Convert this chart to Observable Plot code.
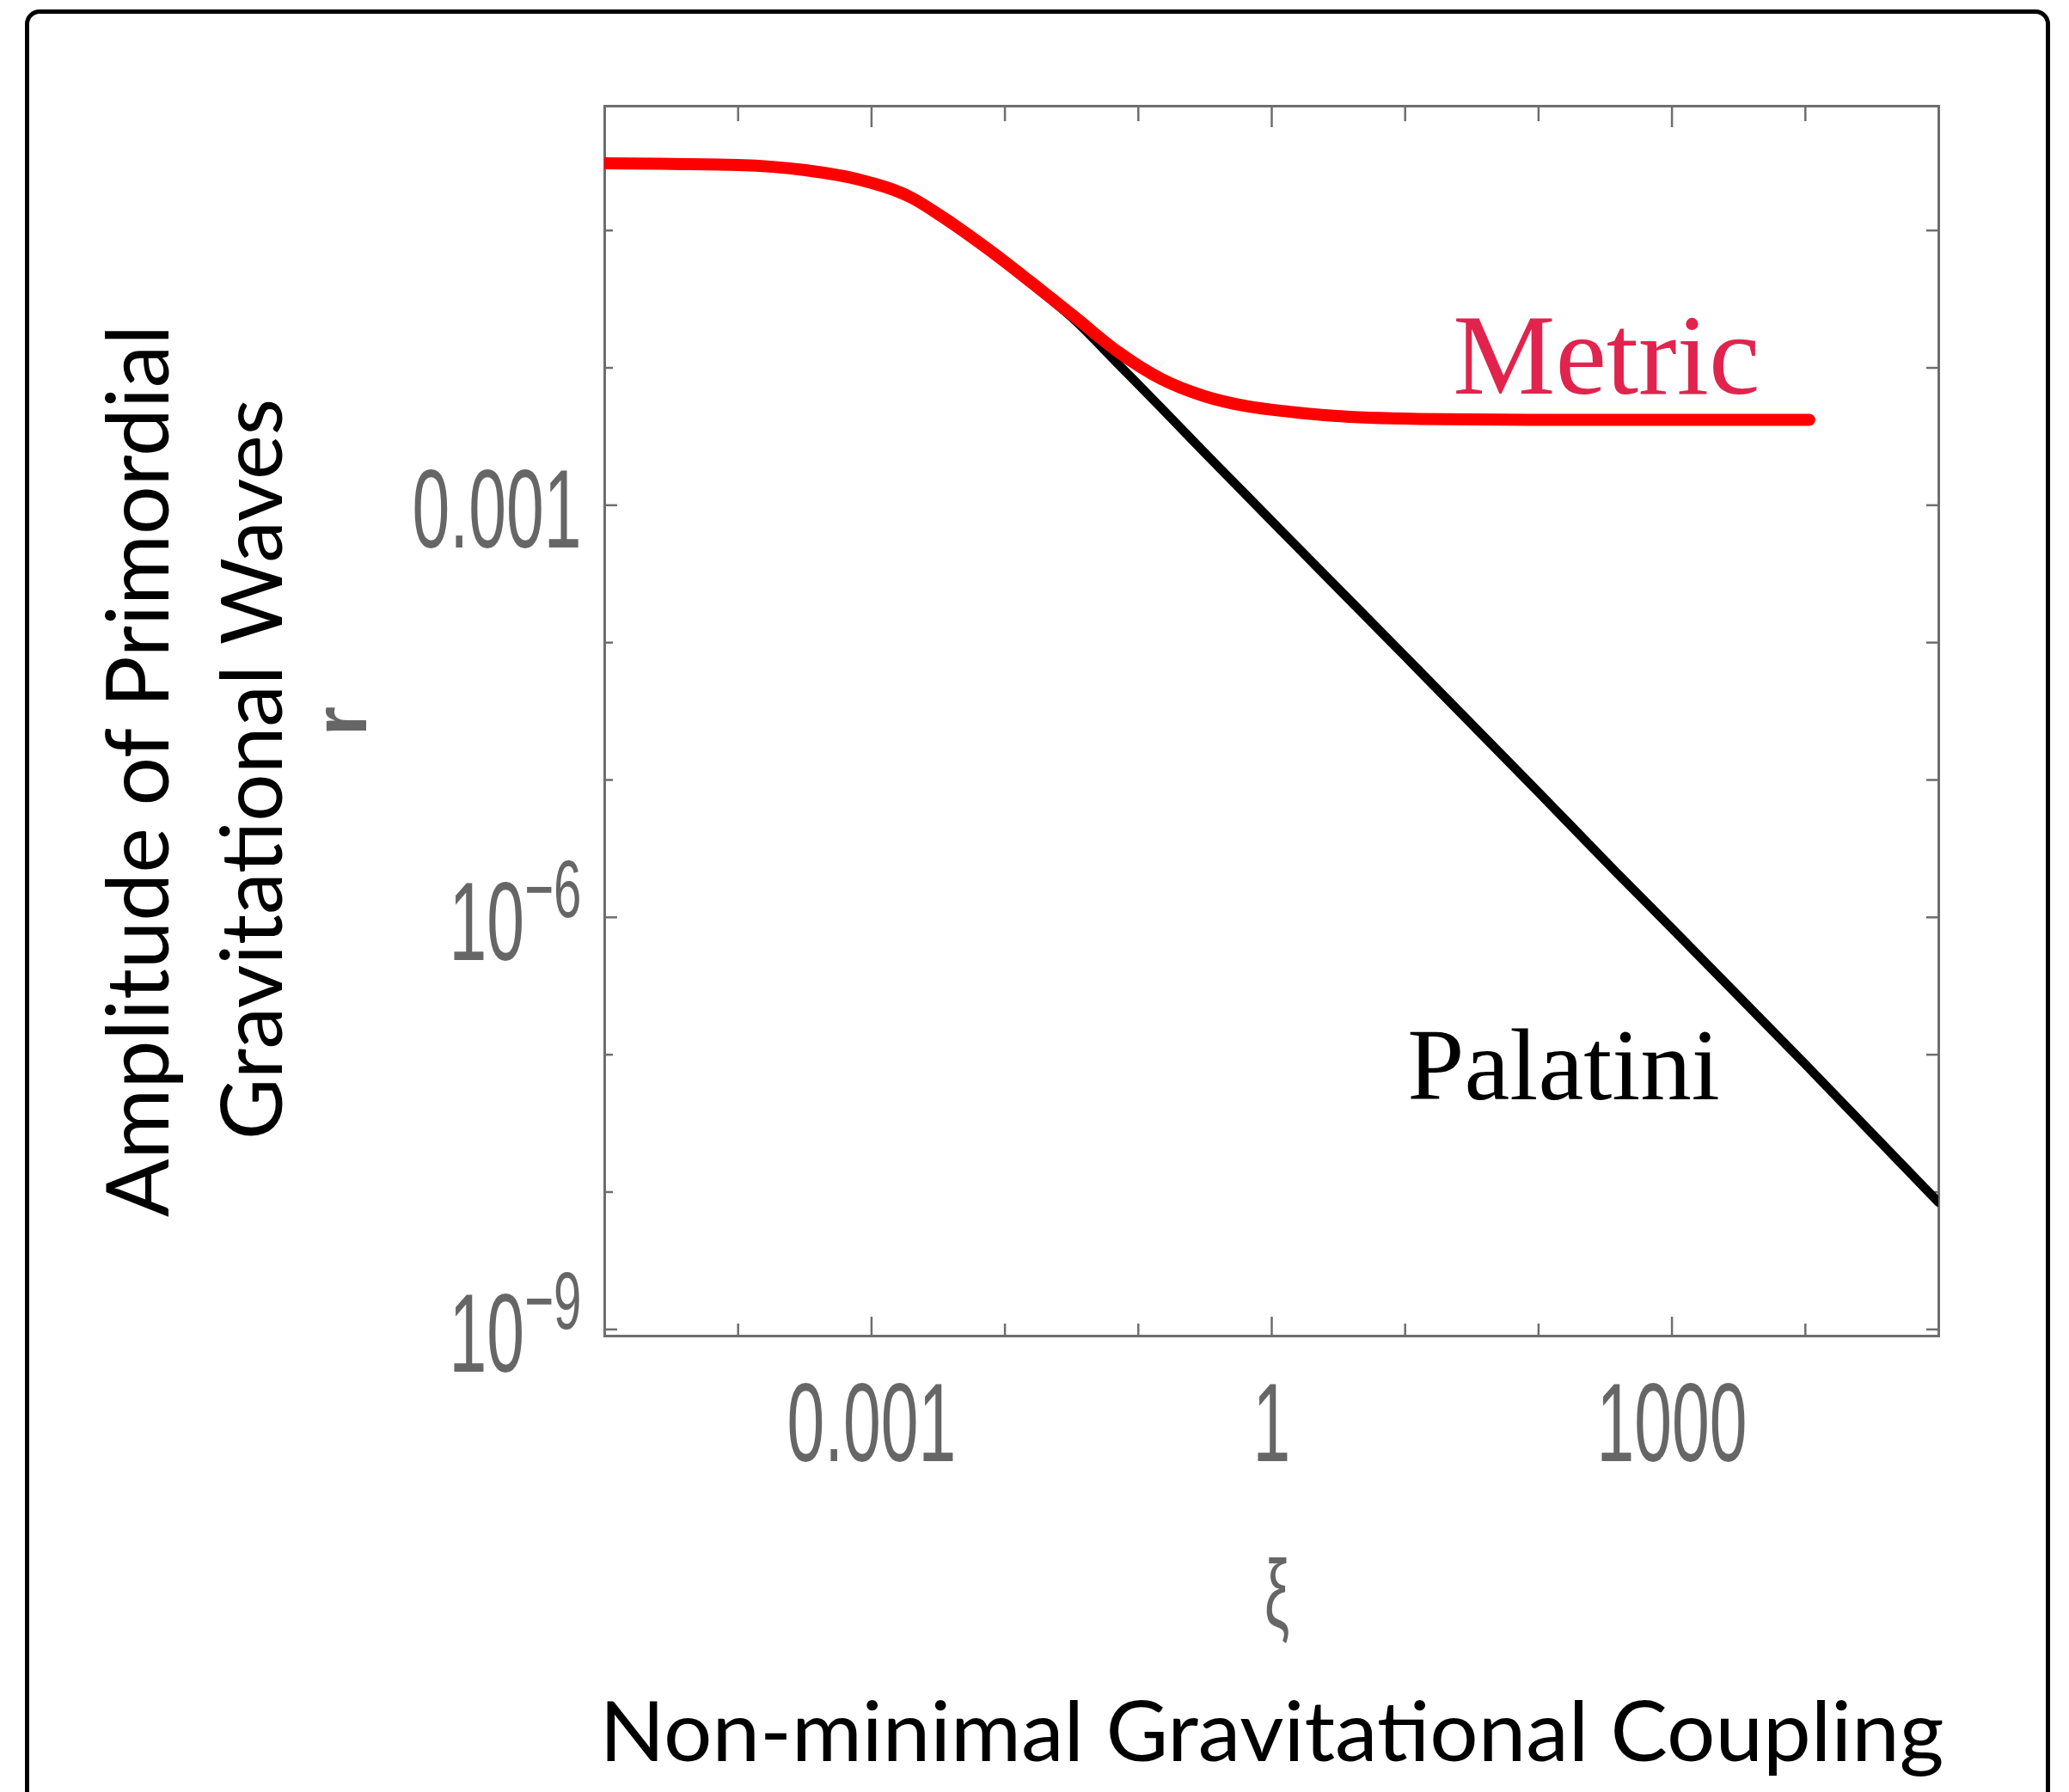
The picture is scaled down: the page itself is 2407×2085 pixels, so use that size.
<!DOCTYPE html>
<html>
<head>
<meta charset="utf-8">
<script src="https://cdn.jsdelivr.net/npm/d3@7"></script>
<script src="https://cdn.jsdelivr.net/npm/@observablehq/plot@0.6"></script>
<style>
  html, body { margin: 0; padding: 0; background: #fff; overflow: hidden; }
  #wrap { position: relative; width: 2407px; height: 2085px; }
  #chart { position: absolute; left: 0; top: 0; }
  #border { position: absolute; left: 29px; top: 11px; width: 2346px; height: 2200px;
            border: 5px solid #000; border-radius: 17px; pointer-events: none; }
</style>
</head>
<body>
<div id="wrap"><div id="chart"></div><div id="border"></div></div>
<script>
// ---- data ----
const metricXi = [1e-5, 3.16e-5, 1e-4, 3.2e-4, 8.2e-4, 2.0e-3, 3.6e-3, 7.6e-3, 0.0159, 0.0335, 0.0703, 0.148, 0.310, 0.653, 1.37, 2.88, 12.7, 92, 1480, 1.07e4];
const metricR  = [0.309, 0.305, 0.300, 0.275, 0.234, 0.173, 0.121, 0.0723, 0.0416, 0.0234, 0.0131, 0.00832, 0.00624, 0.00525, 0.00479, 0.00448, 0.00425, 0.00418, 0.00418, 0.00418];

const palatiniXi = [1e-5, 3.16e-5, 1e-4, 3.2e-4, 8.2e-4, 2.0e-3, 3.6e-3, 7.6e-3, 0.0159, 0.0335, 0.0703, 0.148, 0.310, 0.653, 1.37, 10, 100, 375, 1000, 1e4, 1e5];
const palatiniR  = [0.309, 0.305, 0.300, 0.275, 0.234, 0.173, 0.121, 0.0723, 0.0406, 0.0222, 0.0107, 0.00513, 0.00244, 0.00117, 5.62e-4, 7.94e-5, 8.13e-6, 2.17e-6, 8.3e-7, 8.5e-8, 8.4e-9];

const xDomain = [1e-5, 1e5];
const yDomain = [8.95e-10, 0.804];

const xMajorTicks = [1e-3, 1, 1e3];
const xMinorTicks = [1e-4, 1e-2, 1e-1, 10, 100, 1e4];
const xTickLabels = ["0.001", "1", "1000"];

const yMajorTicks = [1e-3, 1e-6, 1e-9];
const yMinorTicks = [1e-1, 1e-2, 1e-4, 1e-5, 1e-7, 1e-8];
const yTickBase = ["0.001", "10", "10"];
const yTickExp  = ["", "−6", "−9"];

const curveLabels = ["Metric", "Palatini"];
const labelXi = [22.8, 10.4];
const labelR  = [0.00649, 4.74e-8];

const yTitleLines = ["Amplitude of Primordial", "Gravitational Waves"];
const yVarLabel = "r";
const xVarLabel = "ξ";
const xTitle = "Non-minimal Gravitational Coupling";

// ---- build ----
const metric = metricXi.map((x, i) => ({xi: x, r: metricR[i]}));
const palatini = palatiniXi.map((x, i) => ({xi: x, r: palatiniR[i]}));
const labels = curveLabels.map((t, i) => ({t, xi: labelXi[i], r: labelR[i]}));

const frameColor = "#6e6e6e";
const tickColor = "#6e6e6e";
const common = {label: null, color: tickColor, strokeWidth: 2.5};

const plot = Plot.plot({
  width: 2407,
  height: 2085,
  marginLeft: 703,
  marginRight: 152,
  marginTop: 123,
  marginBottom: 531,
  x: {type: "log", domain: xDomain},
  y: {type: "log", domain: yDomain},
  style: {fontFamily: "'Liberation Sans', Arial, sans-serif", background: "transparent", overflow: "visible"},
  marks: [
    Plot.axisX({...common, anchor: "bottom", ticks: xMinorTicks, tickSize: -14, tickFormat: () => ""}),
    Plot.axisX({...common, anchor: "bottom", ticks: xMajorTicks, tickSize: -22, tickPadding: 76,
      tickFormat: d => xTickLabels[xMajorTicks.indexOf(d)], fontSize: 129, fill: "#666"}),
    Plot.axisX({...common, anchor: "top", ticks: xMinorTicks, tickSize: -17, tickFormat: () => ""}),
    Plot.axisX({...common, anchor: "top", ticks: xMajorTicks, tickSize: -24, tickFormat: () => ""}),
    Plot.axisY({...common, anchor: "left", ticks: yMinorTicks, tickSize: -10, tickFormat: () => ""}),
    Plot.axisY({...common, anchor: "left", ticks: yMajorTicks, tickSize: -15, tickPadding: 42,
      tickFormat: d => { const i = yMajorTicks.indexOf(d); return yTickBase[i] + "|" + yTickExp[i]; },
      fontSize: 129, fill: "#666"}),
    Plot.axisY({...common, anchor: "right", ticks: yMinorTicks.concat(yMajorTicks), tickSize: -15, tickFormat: () => ""}),
    Plot.frame({stroke: frameColor, strokeWidth: 3}),
    Plot.line(palatini, {x: "xi", y: "r", stroke: "#000", strokeWidth: 10.5, curve: "monotone-x", clip: true}),
    Plot.line(metric, {x: "xi", y: "r", stroke: "#ff0000", strokeWidth: 14, curve: "monotone-x", clip: true}),
    Plot.text(labels.slice(0, 1), {x: "xi", y: "r", text: "t", textAnchor: "start", lineAnchor: "bottom",
      fontFamily: "'Liberation Serif', 'Times New Roman', serif", fontSize: 134, fill: "#e1244d"}),
    Plot.text(labels.slice(1, 2), {x: "xi", y: "r", text: "t", textAnchor: "start", lineAnchor: "bottom",
      fontFamily: "'Liberation Serif', 'Times New Roman', serif", fontSize: 119, fill: "#000"}),
    Plot.text([yTitleLines[0]], {frameAnchor: "left", text: d => d, rotate: -90, dx: -508, dy: 58,
      lineAnchor: "bottom", textAnchor: "middle", fontFamily: "Lato", fontSize: 101, fill: "#000"}),
    Plot.text([yTitleLines[1]], {frameAnchor: "left", text: d => d, rotate: -90, dx: -376, dy: 56,
      lineAnchor: "bottom", textAnchor: "middle", fontFamily: "Lato", fontSize: 98, fill: "#000"}),
    Plot.text([yVarLabel], {frameAnchor: "left", text: d => d, rotate: -90, dx: -278, dy: 0,
      lineAnchor: "bottom", textAnchor: "middle", fontSize: 88, fontWeight: "bold", fill: "#666"}),
    Plot.text([xVarLabel], {frameAnchor: "bottom", text: d => d, dx: 6, dy: 338,
      lineAnchor: "bottom", textAnchor: "middle", fontSize: 112, fill: "#666"}),
    Plot.text([xTitle], {frameAnchor: "bottom", text: d => d, dx: 0, dy: 494,
      lineAnchor: "bottom", textAnchor: "middle", fontFamily: "Lato", fontSize: 96, fill: "#000"})
  ]
});

document.getElementById("chart").appendChild(plot);

// ---- text styling touches (condensed tick font, superscripts, title lengths) ----
const svg = d3.select(plot);
function appendTransform(el, t) {
  const cur = el.getAttribute("transform") || "";
  el.setAttribute("transform", (cur + " " + t).trim());
}
const lengths = {[yTitleLines[0]]: 1038, [yTitleLines[1]]: 862, [xTitle]: 1564};
svg.selectAll("text").each(function () {
  const txt = this.textContent;
  if (xTickLabels.includes(txt)) appendTransform(this, "scale(0.61,1)");
  if (txt.includes("|")) {
    const [b, e] = txt.split("|");
    this.textContent = b;
    if (e) {
      d3.select(this).append("tspan").attr("font-size", "0.74em").attr("dy", -50).text(e);
    }
    appendTransform(this, "translate(0,8) scale(0.61,1)");
  }
  if (txt === xVarLabel) appendTransform(this, "scale(0.58,1)");
  if (lengths[txt]) {
    this.setAttribute("textLength", lengths[txt]);
    this.setAttribute("lengthAdjust", "spacingAndGlyphs");
  }
});
</script>
</body>
</html>
